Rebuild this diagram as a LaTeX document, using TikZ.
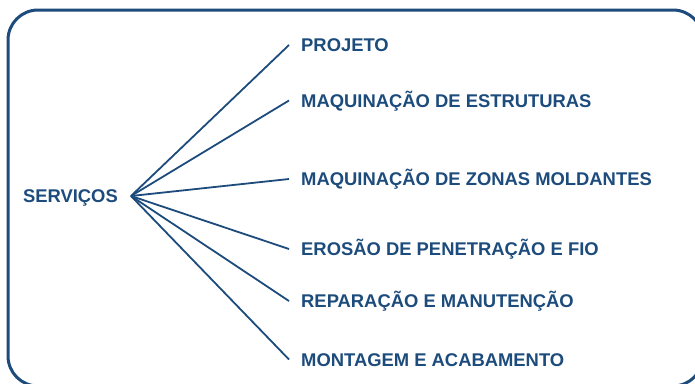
\documentclass[tikz,border=0pt]{standalone}
\usepackage{fontspec}
\setmainfont{Liberation Sans}
\definecolor{navy}{HTML}{1C4B7C}
\begin{document}
\begin{tikzpicture}[x=1pt,y=-1pt,
  lbl/.style={anchor=west,inner xsep=12pt,inner ysep=0pt,text height=13.2pt,text depth=0pt,
    font=\fontsize{18.4}{20}\selectfont\bfseries,text=navy},
  hubtxt/.style={anchor=east,inner xsep=13pt,inner ysep=0pt,text height=13.2pt,text depth=0pt,
    font=\fontsize{18.4}{20}\selectfont\bfseries,text=navy},
  conn/.style={draw=navy,line width=1.8pt},
  frame/.style={draw=navy,line width=3pt,rounded corners=30pt}]
\useasboundingbox (0,0) rectangle (695,383);
\begin{scope}
\clip (0,0) rectangle (695,383);
\draw[frame] (8,10) rectangle (703,386);
\end{scope}
\node[hubtxt] (srv) at (131,196) {SERVIÇOS};
\node[lbl] (p1) at (289,45) {PROJETO};
\node[lbl] (p2) at (289,100.5) {MAQUINAÇÃO DE ESTRUTURAS};
\node[lbl] (p3) at (289,179) {MAQUINAÇÃO DE ZONAS MOLDANTES};
\node[lbl] (p4) at (289,249) {EROSÃO DE PENETRAÇÃO E FIO};
\node[lbl] (p5) at (289,301) {REPARAÇÃO E MANUTENÇÃO};
\node[lbl] (p6) at (289,359.5) {MONTAGEM E ACABAMENTO};
\foreach \n in {p1,p2,p3,p4,p5,p6}
  \draw[conn] (srv.east) -- (\n.west);
\end{tikzpicture}
\end{document}
